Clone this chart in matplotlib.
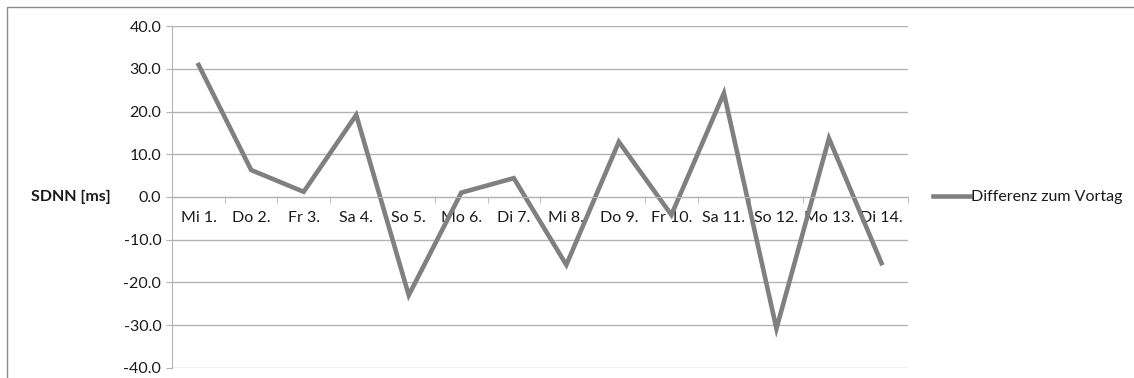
import numpy as np
import matplotlib.pyplot as plt
from matplotlib.lines import Line2D
from matplotlib.ticker import FormatStrFormatter

plt.rcParams['font.family'] = ['Lato', 'DejaVu Sans']
plt.rcParams['axes.unicode_minus'] = False  # "-10.0" mit normalem Bindestrich

# Tage und Differenz der SDNN zum Vortag [ms]
tage = ["Mi 1.", "Do 2.", "Fr 3.", "Sa 4.", "So 5.", "Mo 6.", "Di 7.",
        "Mi 8.", "Do 9.", "Fr 10.", "Sa 11.", "So 12.", "Mo 13.", "Di 14."]
differenz = [30.9, 6.3, 1.2, 19.2, -23.0, 1.0, 4.4,
             -15.9, 12.9, -4.2, 24.3, -30.8, 13.7, -15.5]
y_ticks = [-40, -30, -20, -10, 0, 10, 20, 30, 40]

grau = "#808080"
gitter = "#b3b3b3"
schrift = "#1a1a1a"
fs = 11.5

fig = plt.figure(figsize=(11.34, 3.78), dpi=100)
ax = fig.add_axes([0.152, 0.027, 0.6485, 0.904])

x = np.arange(len(tage))
ax.plot(x, differenz, color=grau, lw=3.3, solid_joinstyle='miter',
        label="Differenz zum Vortag")

ax.set_xlim(-0.5, len(tage) - 0.5)
ax.set_ylim(-40, 40)
ax.set_yticks(y_ticks)
ax.yaxis.set_major_formatter(FormatStrFormatter('%.1f'))
ax.yaxis.grid(True, color=gitter, lw=1.0)
ax.set_axisbelow(True)

# x-Achse liegt bei 0, Striche zwischen den Kategorien
ax.spines['bottom'].set_position(('data', 0))
ax.spines['bottom'].set_color(gitter)
ax.spines['left'].set_color(gitter)
ax.spines['top'].set_visible(False)
ax.spines['right'].set_visible(False)
ax.set_xticks(x)
ax.set_xticklabels(tage)
ax.set_xticks(np.arange(len(tage) + 1) - 0.5, minor=True)
ax.tick_params(axis='x', which='major', length=0, pad=10, labelsize=fs, colors=schrift)
ax.tick_params(axis='x', which='minor', length=4, color=gitter, direction='out')
ax.tick_params(axis='y', length=4, color=gitter, pad=4, labelsize=fs, labelcolor=schrift)

fig.text(111 / 1134, 1 - 197 / 378, "SDNN [ms]", ha='right', va='center',
         fontsize=fs, fontweight='bold', color=schrift)

# Legende rechts neben dem Diagramm
leg = fig.legend(handles=[Line2D([], [], color=grau, lw=3.3)],
                 labels=["Differenz zum Vortag"], loc='center left',
                 bbox_to_anchor=(933 / 1134, 1 - 197 / 378), frameon=False,
                 fontsize=fs, handlelength=2.3, handletextpad=0.1,
                 borderaxespad=0, borderpad=0)
for t in leg.get_texts():
    t.set_color(schrift)

# Rahmen um das ganze Diagramm
fig.add_artist(plt.Rectangle((7 / 1134, -0.05), 1.2, 1 - 7 / 378 + 0.05,
                             transform=fig.transFigure, fill=False,
                             edgecolor='#8c8c8c', lw=1.0))

fig.savefig("out.png", dpi=100, facecolor='white')
